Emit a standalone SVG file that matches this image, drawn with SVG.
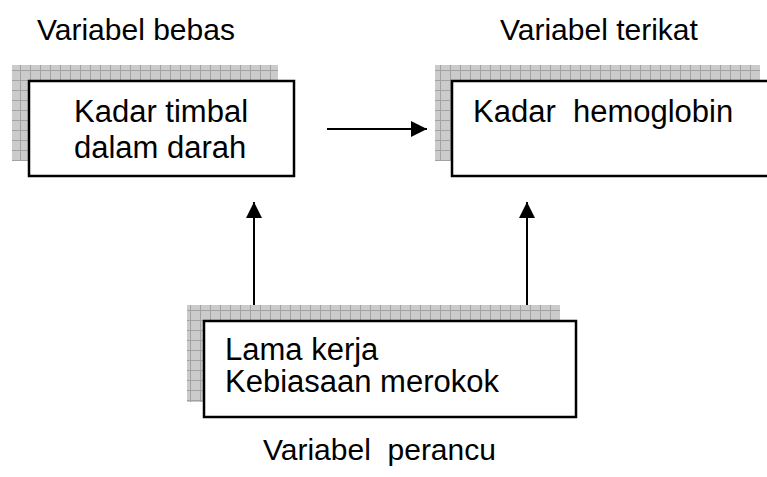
<svg xmlns="http://www.w3.org/2000/svg" width="767" height="477" viewBox="0 0 767 477">
<style>
.t{font-family:"Liberation Sans",Arial,sans-serif;font-size:30px;fill:#000}
.b{font-size:31px}
.box{fill:#fff;stroke:#000;stroke-width:2.5}
.sh{fill:url(#grid)}
.ln{stroke:#000;stroke-width:2;fill:none}
</style>
<defs>
<pattern id="grid" width="10" height="10" patternUnits="userSpaceOnUse">
<rect width="10" height="10" fill="#cbcbcb"/>
<path d="M0 0.5H10M0.5 0V10" stroke="#a2a2a2" stroke-width="1"/>
</pattern>
<marker id="ah" viewBox="0 0 16 16" refX="16" refY="8" markerWidth="16" markerHeight="16" markerUnits="userSpaceOnUse" orient="auto">
<path d="M0 0L16 8L0 16Z" fill="#000"/>
</marker>
</defs>
<rect width="767" height="477" fill="#fff"/>
<text class="t" x="37" y="40">Variabel bebas</text>
<text class="t" x="500" y="40">Variabel terikat</text>
<text class="t" x="263" y="460" xml:space="preserve">Variabel  perancu</text>
<g id="connectors">
<line class="ln" x1="327" y1="129" x2="427" y2="129" marker-end="url(#ah)"/>
<line class="ln" x1="254" y1="321" x2="254" y2="202" marker-end="url(#ah)"/>
<line class="ln" x1="527" y1="321" x2="527" y2="202" marker-end="url(#ah)"/>
</g>
<g id="node-timbal">
<rect class="sh" x="12" y="65" width="266" height="96"/>
<rect class="box" x="29" y="81" width="265" height="95"/>
<text class="t b" x="74" y="122">Kadar timbal</text>
<text class="t b" x="74" y="158">dalam darah</text>
</g>
<g id="node-hemoglobin">
<rect class="sh" x="435" y="65" width="325" height="96"/>
<rect class="box" x="452" y="81" width="330" height="95"/>
<text class="t b" x="473" y="122" xml:space="preserve">Kadar  hemoglobin</text>
</g>
<g id="node-perancu">
<rect class="sh" x="187" y="305" width="373" height="97"/>
<rect class="box" x="204" y="321" width="372" height="96"/>
<text class="t b" x="225" y="360">Lama kerja</text>
<text class="t b" x="225" y="392">Kebiasaan merokok</text>
</g>
</svg>
